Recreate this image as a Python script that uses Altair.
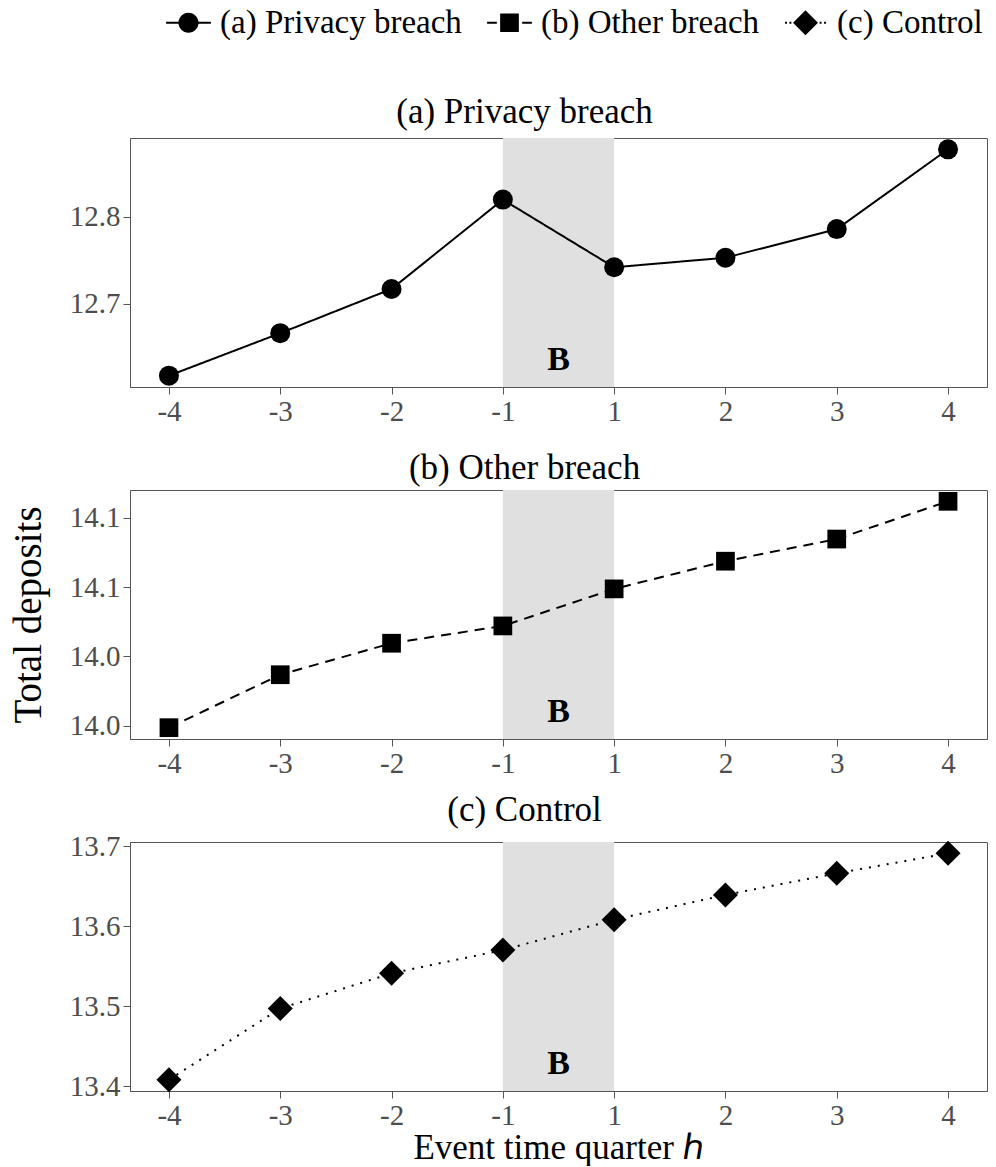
import altair as alt
import pandas as pd

# ---- data ----
quarters = ["-4", "-3", "-2", "-1", "1", "2", "3", "4"]
privacy = [12.617, 12.666, 12.717, 12.820, 12.742, 12.753, 12.786, 12.878]
other = [14.0194, 14.0347, 14.0438, 14.0488, 14.0595, 14.0675, 14.0739, 14.0848]
control = [13.408, 13.497, 13.541, 13.570, 13.608, 13.639, 13.666, 13.691]
series_names = ["(a) Privacy breach", "(b) Other breach", "(c) Control"]
y_ticks = [[12.7, 12.8], [14.02, 14.04, 14.06, 14.08], [13.4, 13.5, 13.6, 13.7]]
shade_from, shade_to = "-1", "1"
shade_label = "B"

# ---- styles ----
FONT = "Liberation Serif"
shapes = ["circle", "square", "diamond"]
dashes = [[1, 0], [10, 7], [2, 7]]
sizes = [400, 350, 625]
# legend keys: marker with short filled line pieces beside it (unit = half symbol width)
legend_keys = [
    "M-2.3,-0.1H-0.9V0.1H-2.3ZM0.9,-0.1H2.3V0.1H0.9Z"
    "M1.03,0A1.03,1.03,0,1,1,-1.03,0A1.03,1.03,0,1,1,1.03,0Z",
    "M-2.3,-0.1H-1.3V0.1H-2.3ZM1.3,-0.1H2.3V0.1H1.3Z"
    "M-0.96,-0.96H0.96V0.96H-0.96Z",
    "M-2.1,-0.1H-1.9V0.1H-2.1ZM-1.65,-0.1H-1.45V0.1H-1.65Z"
    "M1.45,-0.1H1.65V0.1H1.45ZM1.9,-0.1H2.1V0.1H1.9Z"
    "M-1.28,0L0,-1.28L1.28,0L0,1.28Z",
]
W, H = 857, 249
LEG_X, LEG_Y = 42, -132

idx = list(range(1, len(quarters) + 1))
label_expr = "[" + ",".join("'%s'" % q for q in quarters) + "][datum.value - 1]"
x_lo = 1 - 0.05 * (len(quarters) - 1)
x_hi = len(quarters) + 0.05 * (len(quarters) - 1)


def panel(i, values, show_x_title=False, show_y_title=False, with_legend=False):
    name = series_names[i]
    df = pd.DataFrame({"idx": idx, "q": quarters, "value": values, "series": name})
    lo, hi = min(values), max(values)
    pad = 0.05 * (hi - lo)
    yscale = alt.Scale(domain=[lo - pad, hi + pad], nice=False, zero=False)
    xscale = alt.Scale(domain=[x_lo, x_hi], nice=False, zero=False)
    xaxis = alt.Axis(
        values=idx, labelExpr=label_expr, grid=False,
        title="Event time quarter \u210e" if show_x_title else None,
        titleFontSize=35, titleFont=FONT, titleFontWeight="normal", titleColor="black",
        titlePadding=0,
    )
    yaxis = alt.Axis(
        values=y_ticks[i], format=".1f", grid=False,
        title="Total deposits" if show_y_title else None,
        titleFontSize=39, titleFont=FONT, titleFontWeight="normal", titleColor="black",
        titlePadding=21,
    )
    shade_df = pd.DataFrame({
        "x0": [quarters.index(shade_from) + 1],
        "x1": [quarters.index(shade_to) + 1],
        "xm": [(quarters.index(shade_from) + quarters.index(shade_to)) / 2 + 1],
        "lab": [shade_label],
    })
    shade = alt.Chart(shade_df).mark_rect(color="#e0e0e0").encode(
        x=alt.X("x0:Q", scale=xscale, axis=xaxis),
        x2="x1:Q",
        y=alt.value(0),
        y2=alt.value(H),
    )
    text = alt.Chart(shade_df).mark_text(
        font=FONT, fontSize=34, fontWeight="bold", color="black", baseline="alphabetic"
    ).encode(
        x=alt.X("xm:Q", scale=xscale),
        y=alt.value(H - 17),
        text="lab:N",
    )
    base = alt.Chart(df).encode(
        x=alt.X("idx:Q", scale=xscale, axis=xaxis),
        y=alt.Y("value:Q", scale=yscale, axis=yaxis),
    )
    line = base.mark_line(color="black", strokeWidth=2, strokeDash=dashes[i])
    pts = base.mark_point(filled=True, color="black", opacity=1, size=sizes[i],
                          shape=shapes[i])
    layers = [shade, line, pts, text]
    if with_legend:
        leg_df = pd.DataFrame({"series": series_names})
        leg = alt.Chart(leg_df).mark_point(filled=True, color="black", opacity=0).encode(
            x=alt.value(0), y=alt.value(0),
            shape=alt.Shape("series:N",
                            scale=alt.Scale(domain=series_names, range=legend_keys),
                            legend=alt.Legend(
                                title=None, orient="none", direction="horizontal",
                                legendX=LEG_X, legendY=LEG_Y,
                                symbolFillColor="black", symbolStrokeColor="black",
                                symbolOpacity=1,
                            )),
        )
        layers.append(leg)
    return alt.layer(*layers).properties(
        width=W, height=H,
        title=alt.TitleParams(name, fontSize=35, font=FONT, fontWeight="normal",
                              color="black", offset=4, anchor="middle",
                              frame="group", dx=-34),
    )


chart = alt.vconcat(
    panel(0, privacy, with_legend=True),
    panel(1, other, show_y_title=True),
    panel(2, control, show_x_title=True),
    spacing=103,
    bounds="flush",
).properties(
    padding={"left": 8, "top": 6, "right": 4, "bottom": 0},
).configure_view(
    stroke="#555555", strokeWidth=1,
).configure_axis(
    labelFont=FONT, labelFontSize=29, labelColor="#4d4d4d",
    tickColor="#555555", tickSize=7, labelPadding=3,
    domainColor="#555555", domainWidth=1,
).configure_legend(
    labelFont=FONT, labelFontSize=33, labelColor="black", labelLimit=0,
    symbolSize=380, columnPadding=22, symbolOffset=0, labelOffset=15,
).configure_title(font=FONT)

chart.save("out.html", embed_options={"renderer": "svg", "actions": False})
